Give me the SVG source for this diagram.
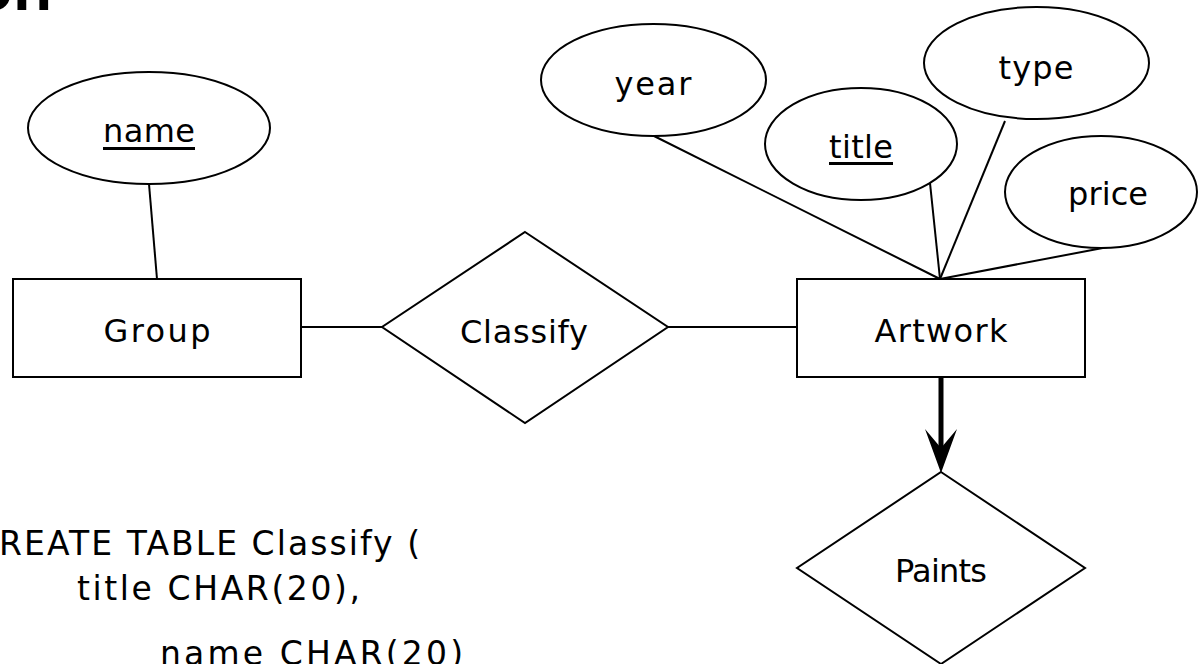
<svg xmlns="http://www.w3.org/2000/svg" width="1200" height="664" viewBox="0 0 1200 664">
<style>
  .shape { fill: #ffffff; stroke: #000000; stroke-width: 2; }
  .conn { stroke: #000000; stroke-width: 2; fill: none; }
  .thick { stroke: #000000; stroke-width: 5; fill: none; }
  .lbl { font-family: "DejaVu Sans", "Liberation Sans", sans-serif; font-size: 32px; fill: #000000; text-anchor: middle; }
  .code { font-family: "DejaVu Sans", "Liberation Sans", sans-serif; font-size: 33px; fill: #000000; }
  .title { font-family: "Liberation Sans", "DejaVu Sans", sans-serif; font-size: 64px; font-weight: bold; fill: #000000; }
</style>
<defs>
  <marker id="arrowHead" viewBox="-20 -17 46 34" refX="0" refY="0" markerWidth="46" markerHeight="34" markerUnits="userSpaceOnUse" orient="auto">
    <path d="M25,0 L-19,-16 L0,0 L-19,16 Z" fill="#000000"/>
  </marker>
</defs>
<rect x="0" y="0" width="1200" height="664" fill="#ffffff"/>

<text class="title" x="52" y="10" text-anchor="end">on</text>

<g id="connectors">
  <line class="conn" x1="149" y1="184" x2="157" y2="279"/>
  <line class="conn" x1="301" y1="327" x2="382" y2="327"/>
  <line class="conn" x1="668" y1="327" x2="797" y2="327"/>
  <line class="conn" x1="654" y1="136" x2="940" y2="279"/>
  <line class="conn" x1="930" y1="183" x2="940" y2="279"/>
  <line class="conn" x1="1005" y1="121" x2="940" y2="279"/>
  <line class="conn" x1="1108" y1="247" x2="940" y2="279"/>
  <line class="thick" x1="941" y1="378" x2="941" y2="448" marker-end="url(#arrowHead)"/>
</g>

<g id="attr-name">
  <ellipse class="shape" cx="149" cy="128" rx="121" ry="56"/>
  <text class="lbl" x="149" y="142" textLength="92">name</text>
  <rect x="103" y="147" width="92" height="3" fill="#000000"/>
</g>

<g id="entity-group">
  <rect class="shape" x="13" y="279" width="288" height="98"/>
  <text class="lbl" x="157" y="342" textLength="107">Group</text>
</g>

<g id="rel-classify">
  <polygon class="shape" points="525,232 668,327 525,423 382,327"/>
  <text class="lbl" x="524" y="343" textLength="128">Classify</text>
</g>

<g id="entity-artwork">
  <rect class="shape" x="797" y="279" width="288" height="98"/>
  <text class="lbl" x="941" y="342" textLength="133">Artwork</text>
</g>

<g id="attr-year">
  <ellipse class="shape" cx="653.5" cy="80" rx="112.5" ry="56"/>
  <text class="lbl" x="653" y="95" textLength="77">year</text>
</g>

<g id="attr-title">
  <ellipse class="shape" cx="861" cy="144" rx="96" ry="56"/>
  <text class="lbl" x="861" y="158" textLength="64">title</text>
  <rect x="829" y="162" width="64" height="3" fill="#000000"/>
</g>

<g id="attr-type">
  <ellipse class="shape" cx="1036.5" cy="63" rx="112.5" ry="56"/>
  <text class="lbl" x="1036" y="79" textLength="75">type</text>
</g>

<g id="attr-price">
  <ellipse class="shape" cx="1101" cy="192" rx="96" ry="56"/>
  <text class="lbl" x="1108" y="205" textLength="80">price</text>
</g>

<g id="rel-paints">
  <polygon class="shape" points="941,472 1085,568 941,664 797,568"/>
  <text class="lbl" x="941" y="582" textLength="92">Paints</text>
</g>

<g id="sql">
  <text class="code" x="-26" y="555" textLength="446">CREATE TABLE Classify (</text>
  <text class="code" x="77" y="600" textLength="283">title CHAR(20),</text>
  <text class="code" x="160" y="665" textLength="303">name CHAR(20)</text>
</g>
</svg>
